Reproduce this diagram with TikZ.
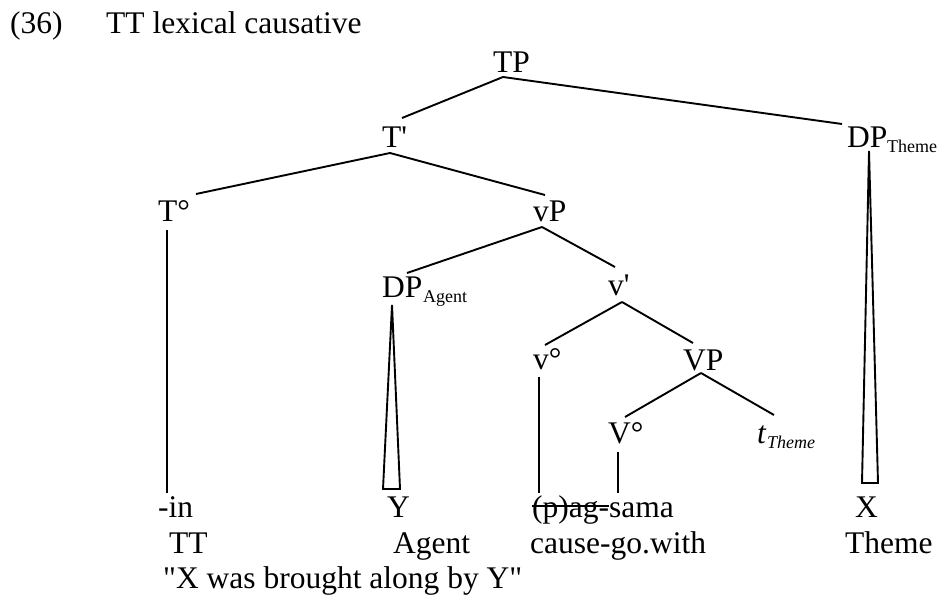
\documentclass[tikz,border=0pt]{standalone}
\usepackage{fontspec}
\setmainfont{Liberation Serif}
\newcommand\strk[1]{\setbox0\hbox{#1}\rlap{\rule[0.33em]{\wd0}{0.05em}}\box0}
\tikzset{
  lab/.style={inner sep=0pt, anchor=base west, font=\fontsize{31.5}{38}\selectfont},
  sublab/.style={inner sep=0pt, anchor=base west, font=\fontsize{18}{22}\selectfont},
  br/.style={line width=1.9pt, line cap=butt},
  tri/.style={line width=1.9pt, line join=miter}
}
\begin{document}
\begin{tikzpicture}[x=1pt,y=-1pt]
\useasboundingbox (0,0) rectangle (939,596);
% title
\node[lab] (num) at (10,34) {(36)};
\node[lab] (title) at (106,34) {TT lexical causative};
% tree labels
\node[lab] (TP) at (493,73) {TP};
\node[lab] (Tbar) at (382,148) {T\textquotesingle};
\node[lab] (DPt) at (847,148) {DP};
\node[sublab] (DPtsub) at (887,153) {Theme};
\node[lab] (Tdeg) at (158,222) {T°};
\node[lab] (vP) at (533,222) {vP};
\node[lab] (DPa) at (382,297) {DP};
\node[sublab] (DPasub) at (423,302) {Agent};
\node[lab] (vbar) at (608,295) {v\textquotesingle};
\node[lab] (vdeg) at (533,369) {v°};
\node[lab] (VP) at (683,370) {VP};
\node[lab] (Vdeg) at (608,443) {V°};
\node[lab] (tT) at (757,443) {\itshape t};
\node[sublab] (tTsub) at (767,448) {\itshape Theme};
% leaves
\node[lab] (in) at (158,517) {-in};
\node[lab] (Y) at (387,517) {Y};
\node[lab] (sama) at (532,517) {\strk{(p)ag-}sama};
\node[lab] (X) at (855,517) {X};
% glosses
\node[lab] (glTT) at (169,553) {TT};
\node[lab] (glAgent) at (393,553) {Agent};
\node[lab] (glcause) at (530,553) {cause-go.with};
\node[lab] (glTheme) at (845,553) {Theme};
\node[lab] (quote) at (163,588) {\textquotedbl X was brought along by Y\textquotedbl};
% connector points
\coordinate (TP-b) at (503,77);
\coordinate (Tbar-t) at (402,118);
\coordinate (DPt-t) at (842,124);
\coordinate (Tbar-b) at (390,153);
\coordinate (Tdeg-t) at (196,194);
\coordinate (vP-t) at (545,195);
\coordinate (Tdeg-b) at (167,230);
\coordinate (in-t) at (167,493);
\coordinate (vP-b) at (542,227);
\coordinate (DPa-t) at (407,273);
\coordinate (vbar-t) at (615,267);
\coordinate (DPa-apex) at (392,305);
\coordinate (DPa-bl) at (383,489);
\coordinate (DPa-br) at (400,489);
\coordinate (vbar-b) at (622,302);
\coordinate (vdeg-t) at (545,345);
\coordinate (VP-t) at (693,343);
\coordinate (vdeg-b) at (539,377);
\coordinate (sama-tl) at (539,493);
\coordinate (VP-b) at (701,373);
\coordinate (Vdeg-t) at (625,417);
\coordinate (tT-t) at (774,415);
\coordinate (Vdeg-b) at (618,452);
\coordinate (sama-tr) at (618,493);
\coordinate (DPt-apex) at (869,151);
\coordinate (DPt-bl) at (862,483);
\coordinate (DPt-br) at (878,483);
% branches
\draw[br] (TP-b) -- (Tbar-t);
\draw[br] (TP-b) -- (DPt-t);
\draw[br] (Tbar-b) -- (Tdeg-t);
\draw[br] (Tbar-b) -- (vP-t);
\draw[br] (Tdeg-b) -- (in-t);
\draw[br] (vP-b) -- (DPa-t);
\draw[br] (vP-b) -- (vbar-t);
\draw[br] (vbar-b) -- (vdeg-t);
\draw[br] (vbar-b) -- (VP-t);
\draw[br] (vdeg-b) -- (sama-tl);
\draw[br] (VP-b) -- (Vdeg-t);
\draw[br] (VP-b) -- (tT-t);
\draw[br] (Vdeg-b) -- (sama-tr);
\draw[tri] (DPa-apex) -- (DPa-bl) -- (DPa-br) -- cycle;
\draw[tri] (DPt-apex) -- (DPt-bl) -- (DPt-br) -- cycle;
\end{tikzpicture}
\end{document}
